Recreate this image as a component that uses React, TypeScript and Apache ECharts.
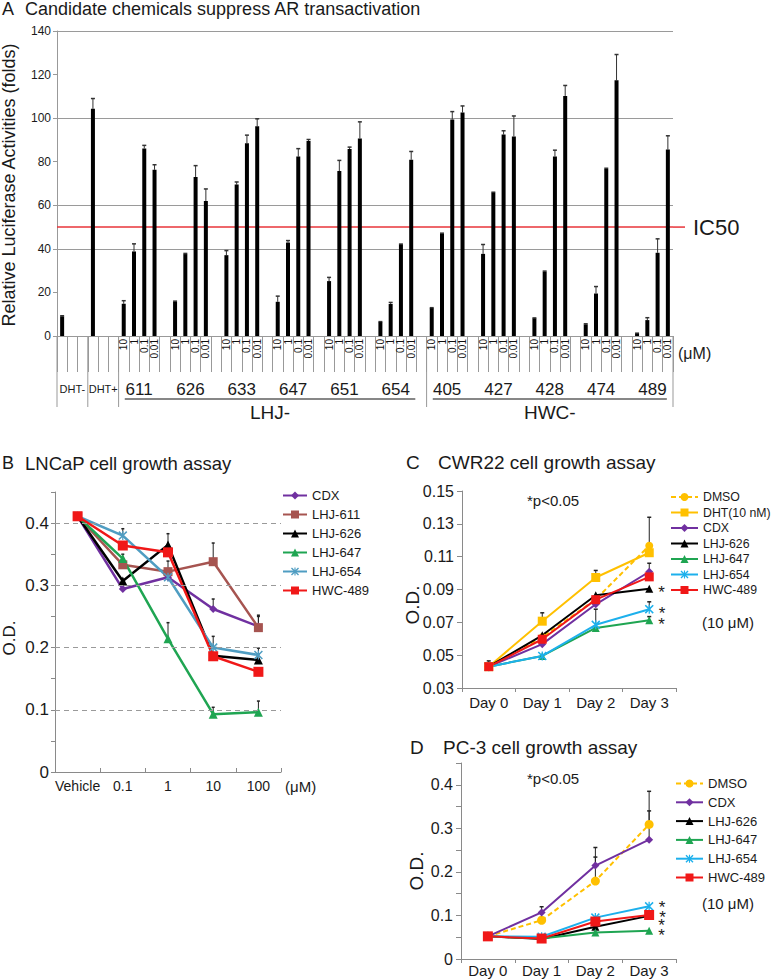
import React, { useEffect, useRef } from 'react';
import * as echarts from 'echarts';

const FONT = 'Liberation Sans, Arial, Helvetica, sans-serif';
const TXT = '#1a1a1a';
const AXIS = '#8a8a8a';

// ---------- Panel A data ----------
const dhtLabels = ['DHT-', 'DHT+'];
const dhtValues = [9.0, 104.3];
const dhtErrors = [9.3, 109.0];
const compoundGroups = ['611', '626', '633', '647', '651', '654', '405', '427', '428', '474', '489'];
const doseLabels = ['10', '1', '0.1', '0.01'];
const groupValues = [
  [14.8, 38.8, 86.1, 76.3],
  [15.7, 37.6, 73.0, 62.0],
  [37.1, 69.5, 88.5, 96.3],
  [15.7, 42.9, 82.4, 89.5],
  [25.2, 75.7, 85.8, 90.7],
  [6.4, 14.7, 42.0, 80.9],
  [12.8, 46.9, 99.4, 102.6],
  [37.7, 65.8, 92.5, 91.6],
  [8.1, 29.5, 82.4, 110.2],
  [5.3, 19.5, 76.6, 117.4],
  [1.1, 7.3, 38.2, 85.6],
];
const groupErrors = [
  [16.2, 42.3, 87.5, 78.6],
  [16.0, 37.9, 78.2, 67.5],
  [39.2, 70.7, 92.2, 99.7],
  [18.3, 43.8, 86.0, 90.2],
  [26.9, 80.6, 86.7, 98.3],
  [6.6, 15.4, 42.2, 84.7],
  [13.0, 47.2, 103.0, 105.6],
  [42.0, 66.0, 94.2, 101.0],
  [8.3, 29.8, 85.3, 115.0],
  [5.6, 22.7, 77.0, 129.2],
  [1.3, 8.4, 44.6, 91.9],
];
const aGridLines = [40, 60, 100, 140];
const ic50Value = 50;
const familyNames = ['LHJ-', 'HWC-'];

// ---------- Panel B data ----------
const bDoses = ['Vehicle', '0.1', '1', '10', '100'];
const bCDX = [0.411, 0.294, 0.313, 0.262, 0.234];
const b611 = [0.411, 0.333, 0.322, 0.338, 0.232];
const b626 = [0.411, 0.307, 0.365, 0.187, 0.180];
const b647 = [0.411, 0.343, 0.214, 0.093, 0.096];
const b654 = [0.411, 0.380, 0.313, 0.200, 0.188];
const b489 = [0.411, 0.364, 0.353, 0.186, 0.161];
const bCDXErr = [null, null, null, 0.278, 0.252];
const b611Err = [null, null, null, 0.368, 0.250];
const b626Err = [null, null, 0.383, null, 0.190];
const b647Err = [null, 0.350, 0.240, 0.104, 0.114];
const b654Err = [null, 0.391, 0.339, 0.218, 0.199];
const bGridLines = [0.1, 0.2, 0.3, 0.4];

// ---------- Panel C data ----------
const days = ['Day 0', 'Day 1', 'Day 2', 'Day 3'];
const cDMSO = [0.043, 0.061, 0.084, 0.1167];
const cDHT = [0.043, 0.0707, 0.0973, 0.1124];
const cCDX = [0.043, 0.0567, 0.081, 0.1008];
const c626 = [0.043, 0.0621, 0.0865, 0.0905];
const c647 = [0.043, 0.0495, 0.0666, 0.0712];
const c654 = [0.043, 0.0495, 0.0685, 0.078];
const c489 = [0.043, 0.0597, 0.0838, 0.0977];
const cDMSOErr = [0.0465, null, null, null];
const cDHTErr = [null, 0.0758, 0.1016, 0.134];
const cCDXErr = [null, null, null, 0.106];
const c654Err = [null, null, 0.078, 0.0825];
const c647Err = [null, null, null, 0.0735];

// ---------- Panel D data ----------
const dDMSO = [0.052, 0.089, 0.179, 0.309];
const dCDX = [0.052, 0.107, 0.2145, 0.274];
const d626 = [0.052, 0.046, 0.074, 0.099];
const d647 = [0.052, 0.047, 0.061, 0.065];
const d654 = [0.052, 0.051, 0.095, 0.121];
const d489 = [0.052, 0.047, 0.086, 0.101];
const dDMSOErr = [null, null, 0.234, 0.385];
const dCDXErr = [null, 0.12, 0.256, 0.34];

// ---------- Layout ----------
const A = { left: 57, top: 31, width: 616, height: 305 };
const B = { left: 55, top: 492, width: 226, height: 280 };
const C = { left: 462, top: 491, width: 214, height: 197 };
const D = { left: 461, top: 763, width: 215, height: 196 };

const COLORS = {
  cdx: '#7030A0',
  l611: '#A65450',
  l626: '#000000',
  l647: '#1FA552',
  l654b: '#4F9DC2',
  l654: '#1DB0EC',
  h489: '#F01818',
  dmso: '#FFC000',
  dht: '#FFC000',
};

const STAR = 'path://M0,1.2L1.2,0L5,3.8L8.8,0L10,1.2L6.2,5L10,8.8L8.8,10L5,6.2L1.2,10L0,8.8L3.8,5Z M4.3,0L5.7,0L5.7,10L4.3,10Z';

// Build panel A columns
const colLabels: string[] = [];
const colValues: (number | null)[] = [];
const colErrors: (number | null)[] = [];
dhtValues.forEach((v, i) => {
  colLabels.push('', '', '');
  colValues.push(v, null, null);
  colErrors.push(dhtErrors[i], null, null);
});
const groupStart: number[] = [];
compoundGroups.forEach((g, gi) => {
  groupStart.push(colLabels.length);
  doseLabels.forEach((d, di) => {
    colLabels.push(d);
    colValues.push(groupValues[gi][di]);
    colErrors.push(groupErrors[gi][di]);
  });
  if (gi < compoundGroups.length - 1) {
    colLabels.push('');
    colValues.push(null);
    colErrors.push(null);
  }
});
const NCOL = colLabels.length;
const colW = A.width / NCOL;
const colX = (c: number) => A.left + c * colW;

function errPoints(values: (number | null)[], errs: (number | null)[]) {
  const out: number[][] = [];
  values.forEach((v, i) => {
    const e = errs[i];
    if (v != null && e != null) out.push([i, v, e]);
  });
  return out;
}

function errorSeries(data: number[][], gridIdx: number, cap: number, color: string, lw = 1) {
  return {
    type: 'custom',
    xAxisIndex: gridIdx,
    yAxisIndex: gridIdx,
    z: 1,
    silent: true,
    encode: { x: 0, y: [1, 2] },
    data,
    renderItem: (params: any, api: any) => {
      const xi = api.value(0);
      const lo = api.coord([xi, api.value(1)]);
      const hi = api.coord([xi, api.value(2)]);
      return {
        type: 'group',
        children: [
          { type: 'line', shape: { x1: lo[0], y1: lo[1], x2: hi[0], y2: hi[1] }, style: { stroke: color, lineWidth: lw } },
          { type: 'line', shape: { x1: hi[0] - cap / 2, y1: hi[1], x2: hi[0] + cap / 2, y2: hi[1] }, style: { stroke: color, lineWidth: 1.5 } },
        ],
      };
    },
  };
}

function lineSeries(
  name: string,
  values: number[],
  gridIdx: number,
  color: string,
  symbol: string,
  size: number,
  width: number,
  dashed = false,
  star: number | null = null,
) {
  const data: any[] = values.map((v, i) => {
    if (star != null && i === values.length - 1) {
      return {
        value: v,
        label: {
          show: true,
          position: 'right',
          distance: 5,
          formatter: '*',
          fontSize: 17,
          lineHeight: 8,
          fontFamily: FONT,
          color: TXT,
          offset: [0, star],
        },
      };
    }
    return v;
  });
  return {
    type: 'line',
    name,
    xAxisIndex: gridIdx,
    yAxisIndex: gridIdx,
    data,
    symbol,
    symbolSize: size,
    showAllSymbol: true,
    z: 3,
    lineStyle: { color, width, type: dashed ? [5, 3] : 'solid' },
    itemStyle: { color },
    label: { show: false },
    emphasis: { disabled: true },
  };
}

function text(x: number, y: number, t: string, size: number, opts: any = {}) {
  return {
    type: 'text',
    x,
    y,
    rotation: opts.rotation || 0,
    silent: true,
    style: {
      text: t,
      fontSize: size,
      fontFamily: FONT,
      fill: opts.fill || TXT,
      align: opts.align || 'left',
      verticalAlign: 'middle',
    },
  };
}

function gline(x1: number, y1: number, x2: number, y2: number, stroke: string, lw = 1) {
  return { type: 'line', silent: true, shape: { x1, y1, x2, y2 }, style: { stroke, lineWidth: lw } };
}

function legend(left: number, top: number, names: string[], gap: number, itemWidth: number, fontSize = 13) {
  return {
    orient: 'vertical',
    left,
    top,
    padding: 0,
    itemWidth,
    itemHeight: 10,
    itemGap: gap,
    selectedMode: false,
    data: names,
    formatter: (n: string) => n.split('#')[0],
    textStyle: { fontSize, fontFamily: FONT, color: TXT, padding: [0, 0, 0, 0] },
  };
}

function buildOption() {
  const yA = (v: number) => A.top + A.height * (1 - v / 140);
  const bottomA = A.top + A.height;

  const graphic: any[] = [
    // titles
    text(2, 9, 'A', 18),
    text(25, 9, 'Candidate chemicals suppress AR transactivation', 18),
    text(2, 463, 'B', 18),
    text(25, 463, 'LNCaP cell growth assay', 18.5),
    text(406, 462, 'C', 19),
    text(438, 462, 'CWR22 cell growth assay', 19),
    text(410, 747, 'D', 19),
    text(443, 747, 'PC-3 cell growth assay', 19),
    // panel A annotations
    text(9, 185, 'Relative Luciferase Activities (folds)', 18, { rotation: Math.PI / 2, align: 'center' }),
    text(693, yA(ic50Value), 'IC50', 22),
    gline(A.left + A.width, yA(ic50Value), 685, yA(ic50Value), '#E8343A', 1.5),
    text(678, 353, '(\u03bcM)', 16),
  ];
  dhtLabels.forEach((l, i) => graphic.push(text(colX(i * 3 + 1.5), 389, l, 11, { align: 'center' })));
  compoundGroups.forEach((g, gi) => graphic.push(text(colX(groupStart[gi] + 2), 389, g, 17, { align: 'center' })));
  [0, 3, 6, 36, NCOL].forEach((c) => graphic.push(gline(colX(c), bottomA, colX(c), 407, '#999', 1)));
  const spans = [
    [6.6, 34.9],
    [36.6, 59.4],
  ];
  spans.forEach((s, i) => {
    graphic.push(gline(colX(s[0]), 399, colX(s[1]), 399, '#111', 1.2));
    graphic.push(text(colX((s[0] + s[1]) / 2), 412, familyNames[i], 19, { align: 'center' }));
  });
  // panel B/C/D annotations
  graphic.push(text(9, 638, 'O.D.', 17, { rotation: Math.PI / 2, align: 'center' }));
  graphic.push(text(285, 786, '(\u03bcM)', 15));
  graphic.push(text(412, 605, 'O.D.', 19, { rotation: Math.PI / 2, align: 'center' }));
  graphic.push(text(527, 500, '*p<0.05', 15));
  graphic.push(text(702, 622, '(10 \u03bcM)', 15));
  graphic.push(text(416, 871, 'O.D.', 19, { rotation: Math.PI / 2, align: 'center' }));
  graphic.push(text(527, 778, '*p<0.05', 15));
  graphic.push(text(702, 903, '(10 \u03bcM)', 15));

  const axLine = { show: true, lineStyle: { color: AXIS, width: 1 } };
  const labelStyle = (size: number, margin: number) => ({ fontSize: size, fontFamily: FONT, color: TXT, margin });

  const xAxis: any[] = [
    {
      type: 'category',
      gridIndex: 0,
      data: colLabels,
      axisLine: { show: true, lineStyle: { color: '#999', width: 1 } },
      axisTick: { show: true, interval: 0, length: 36, lineStyle: { color: '#999' } },
      axisLabel: { ...labelStyle(10, 3), color: '#111', interval: 0, rotate: 90 },
      splitLine: { show: false },
    },
    {
      type: 'category',
      gridIndex: 1,
      data: bDoses,
      axisLine: axLine,
      axisTick: { show: true, inside: true, length: 4, lineStyle: { color: AXIS } },
      axisLabel: { ...labelStyle(14, 7), interval: 0 },
    },
    {
      type: 'category',
      gridIndex: 2,
      data: days,
      axisLine: axLine,
      axisTick: { show: true, length: 4, lineStyle: { color: AXIS } },
      axisLabel: { ...labelStyle(15, 7), interval: 0 },
    },
    {
      type: 'category',
      gridIndex: 3,
      data: days,
      axisLine: axLine,
      axisTick: { show: true, length: 4, lineStyle: { color: AXIS } },
      axisLabel: { ...labelStyle(15, 4), interval: 0 },
    },
  ];

  const tenthFormatter = (v: number) => {
    const r = Math.round(v * 100);
    if (r % 10 !== 0 || r > 40) return '';
    return r === 0 ? '0' : (r / 100).toFixed(1);
  };

  const yAxis: any[] = [
    {
      type: 'value',
      gridIndex: 0,
      min: 0,
      max: 140,
      interval: 20,
      axisLine: { show: true, lineStyle: { color: '#999' } },
      axisTick: { show: true, length: 4, lineStyle: { color: '#999' } },
      axisLabel: labelStyle(12, 6),
      splitLine: { show: false },
    },
    {
      type: 'value',
      gridIndex: 1,
      min: 0,
      max: 0.45,
      interval: 0.05,
      axisLine: axLine,
      axisTick: { show: true, length: 4, lineStyle: { color: AXIS } },
      axisLabel: { ...labelStyle(17, 6), formatter: tenthFormatter },
      splitLine: { show: false },
    },
    {
      type: 'value',
      gridIndex: 2,
      min: 0.03,
      max: 0.15,
      interval: 0.02,
      axisLine: axLine,
      axisTick: { show: true, length: 5, lineStyle: { color: AXIS } },
      axisLabel: { ...labelStyle(16, 8), formatter: (v: number) => v.toFixed(2) },
      splitLine: { show: false },
    },
    {
      type: 'value',
      gridIndex: 3,
      min: 0,
      max: 0.45,
      interval: 0.05,
      axisLine: axLine,
      axisTick: { show: true, length: 5, lineStyle: { color: AXIS } },
      axisLabel: { ...labelStyle(16, 8), formatter: tenthFormatter },
      splitLine: { show: false },
    },
  ];

  const series: any[] = [
    {
      type: 'bar',
      xAxisIndex: 0,
      yAxisIndex: 0,
      data: colValues,
      barWidth: 4,
      itemStyle: { color: '#000' },
      z: 2,
      silent: true,
      markLine: {
        silent: true,
        symbol: ['none', 'none'],
        label: { show: false },
        z: 1,
        data: [
          ...aGridLines.map((v) => ({ yAxis: v, lineStyle: { color: '#9a9a9a', width: 1, type: 'solid' } })),
          { yAxis: ic50Value, lineStyle: { color: '#E8343A', width: 1.5, type: 'solid' } },
        ],
      },
    },
    errorSeries(errPoints(colValues, colErrors), 0, 4, '#333', 1),
  ];

  // Panel B
  const bLines = [
    lineSeries('CDX#B', bCDX, 1, COLORS.cdx, 'diamond', 8, 2.5),
    lineSeries('LHJ-611#B', b611, 1, COLORS.l611, 'rect', 9, 2.5),
    lineSeries('LHJ-626#B', b626, 1, COLORS.l626, 'triangle', 9, 2.5),
    lineSeries('LHJ-647#B', b647, 1, COLORS.l647, 'triangle', 9, 2.5),
    lineSeries('LHJ-654#B', b654, 1, COLORS.l654b, STAR, 9, 2.5),
    lineSeries('HWC-489#B', b489, 1, COLORS.h489, 'rect', 10, 2.5),
  ];
  (bLines[0] as any).markLine = {
    silent: true,
    symbol: ['none', 'none'],
    label: { show: false },
    data: bGridLines.map((v) => ({ yAxis: v, lineStyle: { color: '#9a9a9a', width: 1, type: [5, 4] } })),
  };
  series.push(
    errorSeries(errPoints(bCDX, bCDXErr), 1, 3, '#222'),
    errorSeries(errPoints(b611, b611Err), 1, 3, '#222'),
    errorSeries(errPoints(b626, b626Err), 1, 3, '#222'),
    errorSeries(errPoints(b647, b647Err), 1, 3, '#222'),
    errorSeries(errPoints(b654, b654Err), 1, 3, '#222'),
    ...bLines,
  );

  // Panel C
  series.push(
    errorSeries(errPoints(cDMSO, cDMSOErr), 2, 4, '#222'),
    errorSeries(errPoints(cDHT, cDHTErr), 2, 4, '#222'),
    errorSeries(errPoints(cCDX, cCDXErr), 2, 4, '#222'),
    errorSeries(errPoints(c654, c654Err), 2, 4, '#222'),
    errorSeries(errPoints(c647, c647Err), 2, 4, '#222'),
    lineSeries('DMSO#C', cDMSO, 2, COLORS.dmso, 'circle', 8, 2, true),
    lineSeries('DHT(10 nM)#C', cDHT, 2, COLORS.dht, 'rect', 9, 2),
    lineSeries('CDX#C', cCDX, 2, COLORS.cdx, 'diamond', 8, 2),
    lineSeries('LHJ-626#C', c626, 2, COLORS.l626, 'triangle', 8, 2, false, 4),
    lineSeries('LHJ-647#C', c647, 2, COLORS.l647, 'triangle', 8, 2, false, 4),
    lineSeries('LHJ-654#C', c654, 2, COLORS.l654, STAR, 9, 2, false, 4),
    lineSeries('HWC-489#C', c489, 2, COLORS.h489, 'rect', 9, 2),
  );

  // Panel D
  series.push(
    errorSeries(errPoints(dDMSO, dDMSOErr), 3, 4, '#222'),
    errorSeries(errPoints(dCDX, dCDXErr), 3, 4, '#222'),
    lineSeries('DMSO#D', dDMSO, 3, COLORS.dmso, 'circle', 9, 2, true),
    lineSeries('CDX#D', dCDX, 3, COLORS.cdx, 'diamond', 8, 2),
    lineSeries('LHJ-626#D', d626, 3, COLORS.l626, 'triangle', 8, 2, false, 10),
    lineSeries('LHJ-647#D', d647, 3, COLORS.l647, 'triangle', 8, 2, false, 5),
    lineSeries('LHJ-654#D', d654, 3, COLORS.l654, STAR, 9, 2, false, 1),
    lineSeries('HWC-489#D', d489, 3, COLORS.h489, 'rect', 10, 2, false, 2),
  );

  return {
    animation: false,
    backgroundColor: '#ffffff',
    textStyle: { fontFamily: FONT },
    grid: [A, B, C, D].map((g) => ({ ...g, containLabel: false })),
    xAxis,
    yAxis,
    legend: [
      legend(282, 489, ['CDX#B', 'LHJ-611#B', 'LHJ-626#B', 'LHJ-647#B', 'LHJ-654#B', 'HWC-489#B'], 6, 24),
      legend(670, 491, ['DMSO#C', 'DHT(10 nM)#C', 'CDX#C', 'LHJ-626#C', 'LHJ-647#C', 'LHJ-654#C', 'HWC-489#C'], 3.5, 27, 12.3),
      legend(675, 777, ['DMSO#D', 'CDX#D', 'LHJ-626#D', 'LHJ-647#D', 'LHJ-654#D', 'HWC-489#D'], 5.8, 27),
    ],
    graphic,
    series,
  };
}

export default function App() {
  const ref = useRef<HTMLDivElement>(null);
  useEffect(() => {
    document.body.style.margin = '0';
    if (!ref.current) return;
    const chart = echarts.init(ref.current, undefined, { renderer: 'svg' });
    chart.setOption(buildOption() as any);
    return () => chart.dispose();
  }, []);
  return <div ref={ref} style={{ width: 772, height: 979, background: '#fff' }} />;
}
